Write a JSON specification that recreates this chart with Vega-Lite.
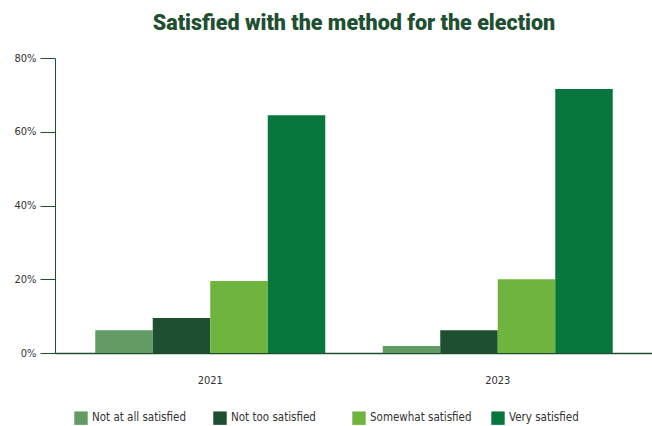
{
  "$schema": "https://vega.github.io/schema/vega-lite/v6.json",
  "width": 598,
  "height": 295,
  "autosize": "none",
  "padding": {"left": 55, "top": 58, "right": 0, "bottom": 73},
  "background": "white",
  "title": {
    "text": "Satisfied with the method for the election",
    "fontSize": 21.5,
    "fontWeight": 900,
    "font": "Roboto",
    "color": "#1e4f31",
    "anchor": "middle",
    "offset": 18
  },
  "data": {
    "values": [
      {"year": "2021", "response": "Not at all satisfied", "value": 0.062},
      {"year": "2021", "response": "Not too satisfied", "value": 0.095},
      {"year": "2021", "response": "Somewhat satisfied", "value": 0.195},
      {"year": "2021", "response": "Very satisfied", "value": 0.645},
      {"year": "2023", "response": "Not at all satisfied", "value": 0.019},
      {"year": "2023", "response": "Not too satisfied", "value": 0.062},
      {"year": "2023", "response": "Somewhat satisfied", "value": 0.2},
      {"year": "2023", "response": "Very satisfied", "value": 0.716}
    ]
  },
  "mark": {"type": "bar"},
  "encoding": {
    "x": {
      "field": "year",
      "type": "nominal",
      "title": null,
      "scale": {"paddingInner": 0.2, "paddingOuter": 0.14},
      "axis": {
        "labelAngle": 0,
        "ticks": false,
        "domainColor": "#1e4f31",
        "domainWidth": 1.5,
        "labelPadding": 21,
        "labelColor": "#333333",
        "labelFontSize": 11,
        "labelFont": "Liberation Sans Narrow, DejaVu Sans Condensed"
      }
    },
    "xOffset": {
      "field": "response",
      "type": "nominal",
      "sort": ["Not at all satisfied", "Not too satisfied", "Somewhat satisfied", "Very satisfied"],
      "scale": {"paddingInner": 0, "paddingOuter": 0}
    },
    "y": {
      "field": "value",
      "type": "quantitative",
      "title": null,
      "scale": {"domain": [0, 0.8]},
      "axis": {
        "values": [0, 0.2, 0.4, 0.6, 0.8],
        "format": ".0%",
        "grid": false,
        "tickSize": 15,
        "tickColor": "#1e4f31",
        "domainColor": "#1e4f31",
        "labelPadding": 4,
        "labelColor": "#333333",
        "labelFontSize": 11,
        "labelFont": "Liberation Sans Narrow, DejaVu Sans Condensed"
      }
    },
    "color": {
      "field": "response",
      "type": "nominal",
      "sort": ["Not at all satisfied", "Not too satisfied", "Somewhat satisfied", "Very satisfied"],
      "scale": {
        "domain": ["Not at all satisfied", "Not too satisfied", "Somewhat satisfied", "Very satisfied"],
        "range": ["#629c64", "#1e4f31", "#6fb43f", "#08773e"]
      },
      "legend": {
        "orient": "none",
        "legendX": 19,
        "legendY": 353,
        "direction": "horizontal",
        "columns": 4,
        "gridAlign": "all",
        "title": null,
        "symbolType": "square",
        "symbolSize": 180,
        "symbolStrokeWidth": 0,
        "symbolOpacity": 1,
        "labelFontSize": 11.5,
        "labelColor": "#333333",
        "labelFont": "Liberation Sans Narrow, DejaVu Sans Condensed",
        "columnPadding": 19
      }
    }
  },
  "config": {
    "view": {"stroke": null}
  }
}
